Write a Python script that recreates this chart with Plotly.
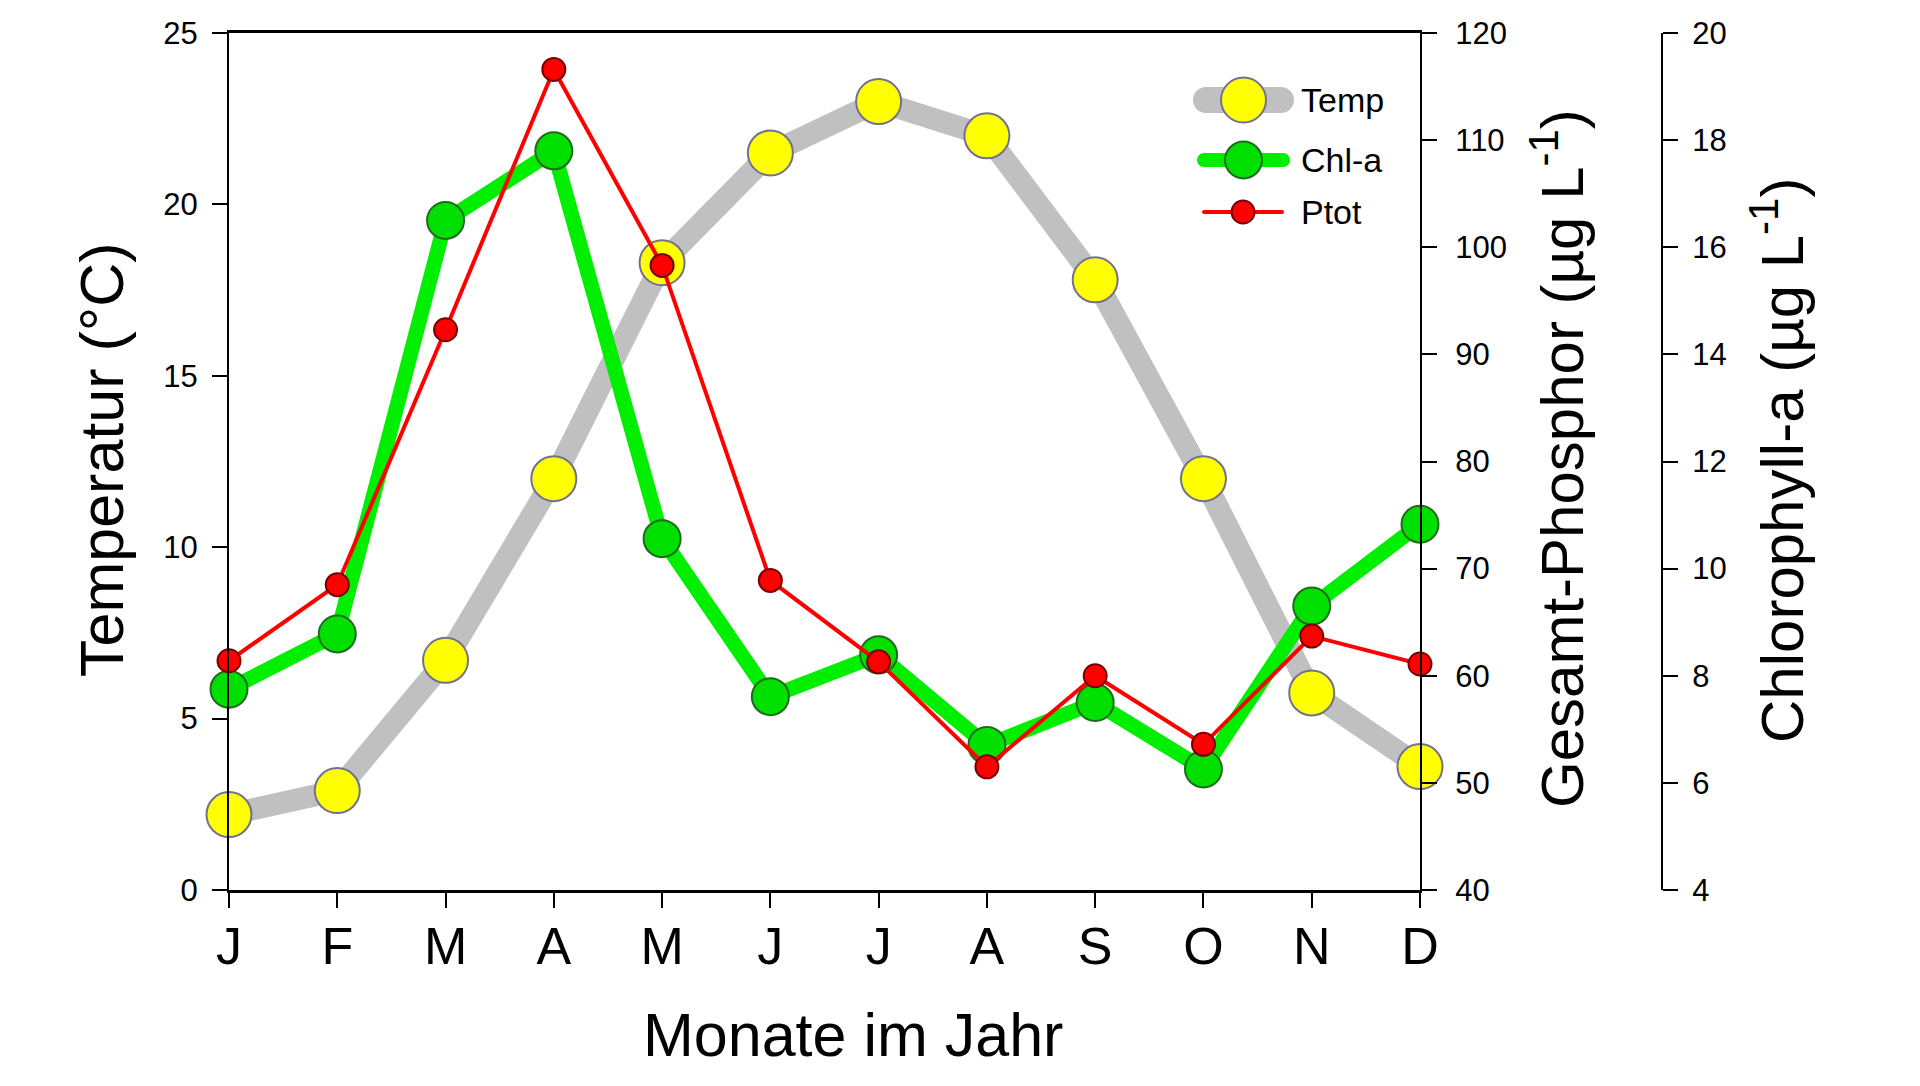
import plotly.graph_objects as go

# ---------------- data ----------------
months = ["J", "F", "M", "A", "M", "J", "J", "A", "S", "O", "N", "D"]
month_idx = list(range(12))
temp = [2.2, 2.9, 6.7, 12.0, 18.3, 21.5, 23.0, 22.0, 17.8, 12.0, 5.75, 3.6]
chl = [7.75, 8.78, 16.5, 17.8, 10.56, 7.61, 8.39, 6.70, 7.50, 6.26, 9.30, 10.83]
ptot = [61.4, 68.5, 92.3, 116.6, 98.3, 68.9, 61.3, 51.5, 60.0, 53.6, 63.7, 61.1]

series_names = ["Temp", "Chl-a", "Ptot"]

# ---------------- layout constants ----------------
W, H = 1920, 1086
FONT = "Liberation Sans, Arial, sans-serif"
X0, X1 = 229, 1420          # plot area left / right (px)
Y0, Y1 = 33, 890            # plot area top / bottom (px)
CHL_AX_X = 1662             # third axis position (px)

def px_x(p):
    return p / W

def px_y(p):
    return 1 - p / H

GRAY = "#C0C0C0"
YELLOW = "#FFFF00"
YELLOW_EDGE = "#707090"
GREEN = "#00EE00"
GREEN_M = "#00E000"
GREEN_EDGE = "#206A20"
RED = "#FF0000"
RED_EDGE = "#7A0000"

fig = go.Figure()

# Temperature (left axis)
fig.add_trace(go.Scatter(
    x=month_idx, y=temp, name=series_names[0], mode="lines+markers",
    line=dict(color=GRAY, width=22),
    marker=dict(size=45, color=YELLOW, line=dict(color=YELLOW_EDGE, width=2)),
    cliponaxis=False, xaxis="x", yaxis="y", showlegend=False,
))
# Chlorophyll-a (third axis)
fig.add_trace(go.Scatter(
    x=month_idx, y=chl, name=series_names[1], mode="lines+markers",
    line=dict(color=GREEN, width=15),
    marker=dict(size=37, color=GREEN_M, line=dict(color=GREEN_EDGE, width=2)),
    cliponaxis=False, xaxis="x", yaxis="y2", showlegend=False,
))
# Total phosphorus (right axis)
fig.add_trace(go.Scatter(
    x=month_idx, y=ptot, name=series_names[2], mode="lines+markers",
    line=dict(color=RED, width=4),
    marker=dict(size=23, color=RED, line=dict(color=RED_EDGE, width=2)),
    cliponaxis=False, xaxis="x", yaxis="y3", showlegend=False,
))

# ---------------- custom legend (pixel-based hidden axes) ----------------
LEG_X0, LEG_X1, LEG_Y0, LEG_Y1 = 1170, 1310, 60, 240
legend_rows = [
    # (y_px, x_start, x_end, line colour, line width, marker size, marker colour, edge colour)
    (100, 1206, 1281, GRAY, 26, 45, YELLOW, YELLOW_EDGE),
    (160, 1204, 1283, GREEN, 14, 37, GREEN_M, GREEN_EDGE),
    (212, 1204, 1282, RED, 4, 23, RED, RED_EDGE),
]
for name, (yy, xs, xe, lc, lw, ms, mc, ec) in zip(series_names, legend_rows):
    xm = (xs + xe) / 2
    # line sample with rounded ends
    fig.add_trace(go.Scatter(
        x=[xs, xe], y=[yy, yy], mode="lines+markers",
        line=dict(color=lc, width=lw),
        marker=dict(size=lw, color=lc, line=dict(width=0)),
        cliponaxis=False, xaxis="x2", yaxis="y4", showlegend=False,
        hoverinfo="skip",
    ))
    # symbol
    fig.add_trace(go.Scatter(
        x=[xm], y=[yy], mode="markers",
        marker=dict(size=ms, color=mc, opacity=1, line=dict(color=ec, width=2)),
        cliponaxis=False, xaxis="x2", yaxis="y4", showlegend=False,
        hoverinfo="skip",
    ))

tick_font = dict(family=FONT, size=31, color="black")

fig.update_layout(
    width=W, height=H,
    margin=dict(l=0, r=0, t=0, b=0),
    paper_bgcolor="white", plot_bgcolor="white",
    font=dict(family=FONT, color="black"),
    showlegend=False,
    xaxis=dict(
        domain=[px_x(X0), px_x(X1)], range=[0, 11],
        tickmode="array", tickvals=month_idx, ticktext=months,
        tickfont=dict(family=FONT, size=52, color="black"),
        ticks="outside", ticklen=15, tickwidth=2, tickcolor="black",
        showline=True, linecolor="black", linewidth=3, mirror=True,
        showgrid=False, zeroline=False, ticklabelstandoff=-6,
        automargin=False, fixedrange=True,
    ),
    yaxis=dict(
        domain=[px_y(Y1), px_y(Y0)], range=[0, 25], dtick=5, tick0=0,
        tickfont=tick_font, ticks="outside", ticklen=15, tickwidth=2,
        tickcolor="black", showline=True, linecolor="black", linewidth=2,
        showgrid=False, zeroline=False, ticklabelstandoff=8,
        automargin=False, fixedrange=True,
    ),
    yaxis2=dict(
        overlaying="y", side="right", anchor="free", position=px_x(CHL_AX_X),
        range=[4, 20], dtick=2, tick0=4,
        tickfont=tick_font, ticks="outside", ticklen=15, tickwidth=2,
        tickcolor="black", showline=True, linecolor="black", linewidth=2,
        showgrid=False, zeroline=False, ticklabelstandoff=8,
        automargin=False, fixedrange=True,
    ),
    yaxis3=dict(
        overlaying="y", side="right", anchor="x",
        range=[40, 120], dtick=10, tick0=40,
        tickfont=tick_font, ticks="outside", ticklen=15, tickwidth=2,
        tickcolor="black", showline=True, linecolor="black", linewidth=2,
        showgrid=False, zeroline=False, ticklabelstandoff=12,
        automargin=False, fixedrange=True,
    ),
    xaxis2=dict(
        domain=[px_x(LEG_X0), px_x(LEG_X1)], range=[LEG_X0, LEG_X1],
        visible=False, anchor="y4", fixedrange=True,
    ),
    yaxis4=dict(
        domain=[px_y(LEG_Y1), px_y(LEG_Y0)], range=[LEG_Y1, LEG_Y0],
        visible=False, anchor="x2", fixedrange=True,
    ),
)

# legend labels
for name, (yy, *_rest) in zip(series_names, legend_rows):
    fig.add_annotation(
        text=name, xref="paper", yref="paper", x=px_x(1299), y=px_y(yy),
        xanchor="left", yanchor="middle", showarrow=False,
        font=dict(family=FONT, size=34, color="black"),
    )

# axis titles
title_font = dict(family=FONT, size=60, color="black")
fig.add_annotation(text="Monate im Jahr", xref="paper", yref="paper",
                   x=px_x(853), y=px_y(1035), xanchor="center", yanchor="middle",
                   showarrow=False, font=dict(family=FONT, size=61, color="black"))
fig.add_annotation(text="Temperatur (°C)", xref="paper", yref="paper",
                   x=px_x(102), y=px_y(460), xanchor="center", yanchor="middle",
                   textangle=-90, showarrow=False,
                   font=dict(family=FONT, size=61, color="black"))
fig.add_annotation(text="Gesamt-Phosphor (µg L<sup>-1</sup>)", xref="paper", yref="paper",
                   x=px_x(1558), y=px_y(459), xanchor="center", yanchor="middle",
                   textangle=-90, showarrow=False, font=title_font)
fig.add_annotation(text="Chlorophyll-a (µg L<sup>-1</sup>)", xref="paper", yref="paper",
                   x=px_x(1778), y=px_y(461), xanchor="center", yanchor="middle",
                   textangle=-90, showarrow=False, font=title_font)

fig.write_html("out.html", config={"displayModeBar": False})
